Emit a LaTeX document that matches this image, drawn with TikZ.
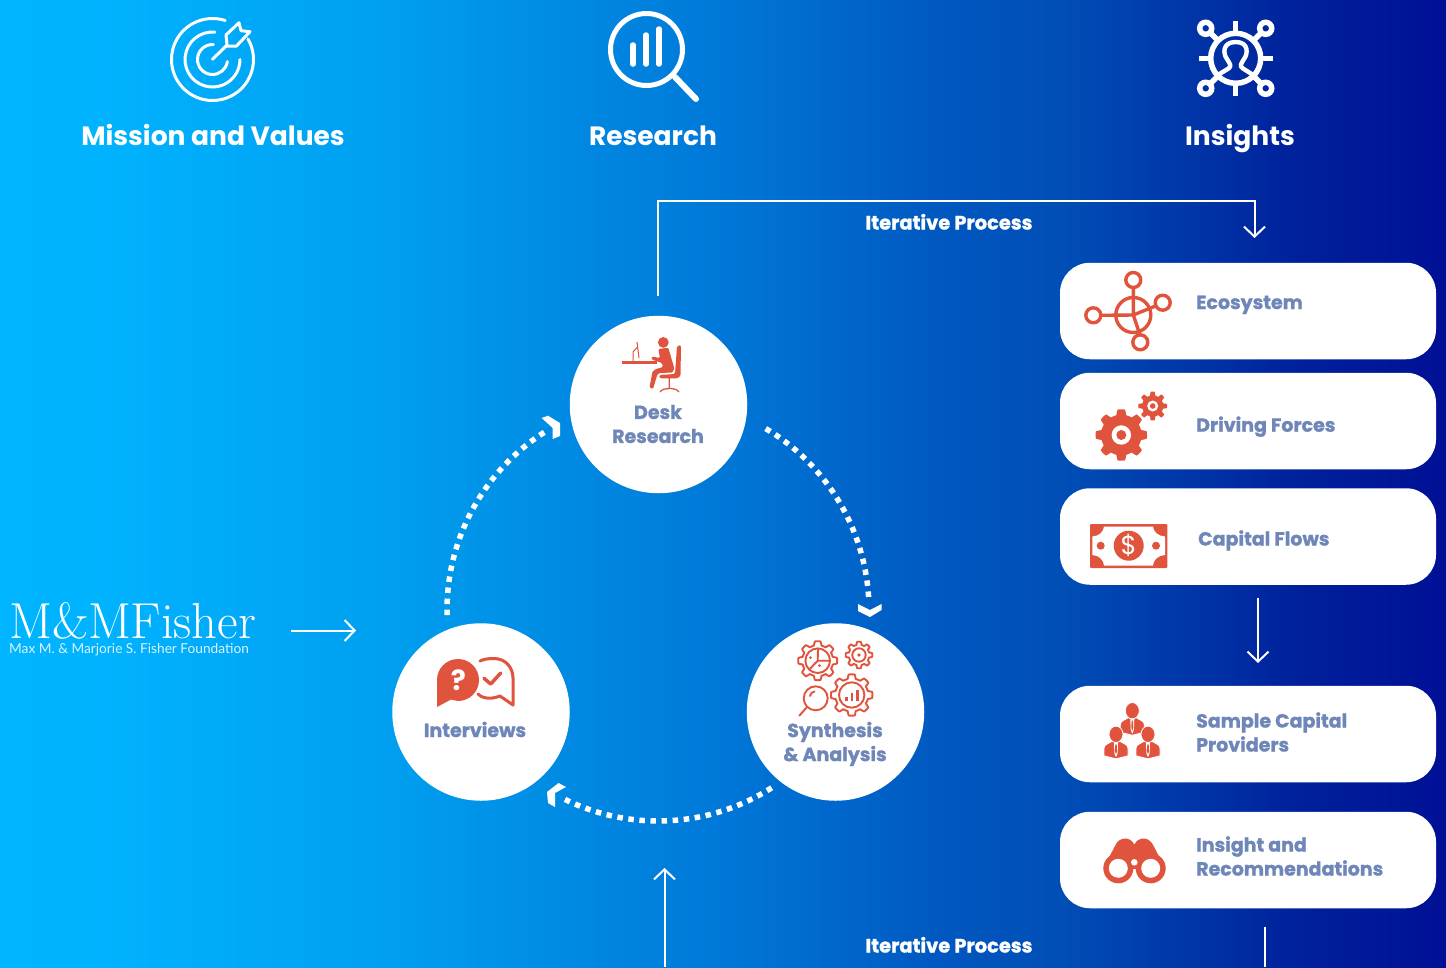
\documentclass[tikz,border=0pt]{standalone}
\usepackage{fontspec}
\usetikzlibrary{arrows.meta}
\newfontfamily\pop{Poppins}
\newfontfamily\popx{Poppins}[BoldFeatures={FakeBold=1.2}]
\newfontfamily\lato{Lato}
\definecolor{ired}{HTML}{E0533D}
\definecolor{ltext}{HTML}{6F86B8}
\pgfdeclarehorizontalshading{bggrad}{100bp}{
 rgb(0bp)=(0,.706,1);
 rgb(25bp)=(0,.706,1);
 rgb(28.5bp)=(0,.70,1);
 rgb(38.1bp)=(0,.627,.941);
 rgb(49.9bp)=(0,.47,.847);
 rgb(57.5bp)=(0,.345,.753);
 rgb(61.7bp)=(0,.306,.714);
 rgb(70bp)=(0,.125,.608);
 rgb(75bp)=(0,.063,.588);
 rgb(100bp)=(0,.063,.588)}
\newcommand\gearplot[5]{plot[domain=0:360,samples=#5*16+1] ({#1+(#3+#4*max(-1,min(1,2.5*cos(#5*\x))))*cos(\x)},{#2+(#3+#4*max(-1,min(1,2.5*cos(#5*\x))))*sin(\x)}) -- cycle}
\newcommand\personicon[2]{%
 \fill[ired,draw=white,line width=.8pt] (#1-12,#2+21.5) -- (#1-12,#2+14) .. controls (#1-12,#2+10.5) and (#1-8,#2+9.5) .. (#1-4,#2+7) -- (#1+4,#2+7) .. controls (#1+8,#2+9.5) and (#1+12,#2+10.5) .. (#1+12,#2+14) -- (#1+12,#2+21.5) -- (#1,#2+24.5) -- cycle;
 \fill[ired,draw=white,line width=.8pt] (#1,#2) ellipse[x radius=7,y radius=8.2];
 \fill[white] (#1-2,#2+8) -- (#1+2,#2+8) -- (#1+1.6,#2+19) -- (#1,#2+23) -- (#1-1.6,#2+19) -- cycle;
 \fill[ired] (#1-.7,#2+10) -- (#1+.7,#2+10) -- (#1+1,#2+17) -- (#1,#2+20) -- (#1-1,#2+17) -- cycle;
}
\tikzset{
 x=1pt,y=-1pt,
 bigcircle/.style={circle,fill=white,minimum size=177.5pt,inner sep=0pt,outer sep=0pt},
 card/.style={rectangle,fill=white,rounded corners=30pt,minimum width=376pt,minimum height=96.5pt,inner sep=0pt,outer sep=0pt},
 heading/.style={text=white,font=\pop\bfseries\fontsize{26.5}{30}\selectfont,inner sep=0pt,anchor=base},
 looplabel/.style={text=ltext,font=\popx\bfseries\fontsize{19}{24}\selectfont,inner sep=0pt,align=center},
 cardlabel/.style={text=ltext,font=\popx\bfseries\fontsize{19}{24}\selectfont,inner sep=0pt,align=left,anchor=west},
 cardbase/.style={cardlabel,anchor=base west},
 iterlabel/.style={text=white,font=\popx\bfseries\fontsize{19.4}{24}\selectfont,inner sep=0pt,anchor=base},
 flowline/.style={draw=white,line width=2pt},
 openarrow/.style={flowline,-{Straight Barb[length=10pt,width=21pt,line width=2pt]}},
 dotarc/.style={draw=white,line width=5.5pt,dash pattern=on 5.5pt off 5.6pt},
 wline/.style={draw=white,line cap=round,line join=round},
 rline/.style={draw=ired,line cap=round,line join=round},
}
\begin{document}
\begin{tikzpicture}
\useasboundingbox (0,0) rectangle (1446,967);
\shade[shading=bggrad] (0,0) rectangle (1446,967);

% circles
\node[bigcircle] (desk) at (658.5,404.5) {};
\node[bigcircle] (inter) at (481,712) {};
\node[bigcircle] (synth) at (835.5,712) {};
\node[looplabel] (desklabel) at (658,424) {Desk\\Research};
\node[looplabel,anchor=base] (interlabel) at (475,737) {Interviews};
\node[looplabel] (synthlabel) at (835,744) {Synthesis\\\& Analysis};

% cards
\node[card] (c1) at (1248,311) {};
\node[card] (c2) at (1248,421) {};
\node[card] (c3) at (1248,536.5) {};
\node[card] (c4) at (1248,734) {};
\node[card] (c5) at (1248,860) {};
\node[cardbase] (l1) at (1196,309) {Ecosystem};
\node[cardbase] (l2) at (1196,431.7) {Driving Forces};
\node[cardbase] (l3) at (1198,545.5) {Capital Flows};
\node[cardlabel] (l4) at (1196,732) {Sample Capital\\Providers};
\node[cardlabel] (l5) at (1196,856) {Insight and\\Recommendations};

% headings
\node[heading] (h1) at (213,145) {Mission and Values};
\node[heading] (h2) at (653,145) {Research};
\node[heading] (h3) at (1240,145) {Insights};
\node[iterlabel] (it1) at (949,229.5) {Iterative Process};
\node[iterlabel] (it2) at (949,952.5) {Iterative Process};

% logo
\node[text=white,inner sep=0pt,anchor=base west,font=\rmfamily\fontsize{50.6}{50}\selectfont\addfontfeatures{FakeBold=0.25}] (logo) at (9,638) {M\&M\hspace{-1pt}Fisher};
\node[text=white,inner sep=0pt,anchor=base west,font=\lato\fontsize{13.7}{16}\selectfont,opacity=.85] (logosub) at (9,653.5) {Max M. \& Marjorie S. Fisher Foundation};

% connectors
\coordinate (a1) at (658,296);
\coordinate (a2) at (1254.5,238);
\coordinate (a3) at (658,201);
\coordinate (a4) at (1254.5,201);
\draw[openarrow] (a1) -- (a3) -- (a4) -- (a2);
\coordinate (b1) at (1258,598);
\coordinate (b2) at (1258,663);
\draw[openarrow] (b1) -- (b2);
\coordinate (d1) at (291,630.5);
\coordinate (d2) at (356,630.5);
\draw[openarrow] (d1) -- (d2);
\coordinate (e1) at (664.5,967);
\coordinate (e2) at (664.5,868);
\draw[openarrow] (e1) -- (e2);
\coordinate (f1) at (1265,927);
\coordinate (f2) at (1265,967);
\draw[flowline] (f1) -- (f2);

% dotted loop
\coordinate (loopc) at (658,610);
\draw[dotarc] (loopc) ++(178.6:211) arc[start angle=178.6,end angle=238.3,radius=211];
\draw[dotarc] (loopc) ++(-59.3:211) arc[start angle=-59.3,end angle=-2.2,radius=211];
\draw[dotarc] (loopc) ++(57.4:211) arc[start angle=57.4,end angle=117,radius=211];
\fill[white] (541.7,418) -- (548,415.7) -- (560,423) -- (560,436) -- (552.7,439) -- (552.7,428) -- cycle;
\fill[white] (858,604) -- (870,610) -- (881.5,604) -- (881.5,610) -- (870,617) -- (858,611) -- cycle;
\fill[white] (547,792) -- (558.6,783) -- (566,787) -- (555,793) -- (555,807) -- (548,803) -- cycle;

% target icon
\coordinate (tc) at (212.5,59.5);
\begin{scope}[wline,line width=3pt]
\draw (tc) ++(-72:41) arc[start angle=-72,delta angle=-318,radius=41];
\draw (tc) ++(-85:27.5) arc[start angle=-85,delta angle=-275,radius=27.5];
\draw (tc) ++(-87:15) arc[start angle=-87,delta angle=-265,radius=15];
\draw (212.5,59.3) -- (227,45) -- (226,35) -- (239,22.7) -- (241,30.7) -- (250,31.7) -- (236.5,46) -- (227,46);
\end{scope}

% magnifier icon
\draw[wline,line width=5pt] (646.5,49.5) circle (36);
\draw[wline,line width=6pt] (675,77) -- (696,99);
\draw[wline,line width=5.5pt] (633,45) -- (633,64) (646,35) -- (646,64) (659,29) -- (659,64);

% insights icon
\begin{scope}[draw=white,line width=5.5pt]
\draw (1235.7,58.3) circle (25);
\foreach \a/\b in {1205.7/28.3,1265.7/28.3,1205.7/88.3,1265.7/88.3}{\draw (\a,\b) circle (6);}
\draw (1235.7,21) -- (1235.7,31) (1235.7,86) -- (1235.7,95.5) (1198.5,58.3) -- (1208,58.3) (1263,58.3) -- (1272.5,58.3);
\draw (1211,33.5) -- (1218,40.5) (1260.5,33.5) -- (1253.5,40.5) (1211,83) -- (1217,77) (1260.5,83) -- (1254.5,77);
\draw[line join=round,line width=4.4pt] (1217,75.5) -- (1228.5,68.5) .. controls (1232,66) and (1230,64) .. (1227,59) .. controls (1223,54) and (1222,42) .. (1235.7,42) .. controls (1249,42) and (1248,54) .. (1244,59) .. controls (1241,64) and (1239,66) .. (1243,68.5) -- (1254,75.5);
\end{scope}

% ecosystem icon
\begin{scope}[rline,line width=3.4pt]
\draw (1133.3,315) circle (17.5);
\draw (1133.3,280) circle (7.5) (1162.7,302.7) circle (7.5) (1093.3,315.3) circle (7.5) (1140.3,342.3) circle (7.5);
\draw (1133.3,287.5) -- (1133.3,315) -- (1140,335);
\draw (1100.8,315.3) -- (1133.3,315) -- (1155.5,306);
\end{scope}

% driving forces
\fill[ired] \gearplot{1121.3}{435}{23}{2.7}{8};
\fill[white] (1121.3,435) circle (9.7);
\fill[ired] (1121.3,435) circle (5);
\fill[ired] \gearplot{1152.7}{406}{12.5}{1.9}{8};
\fill[white] (1152.7,406) circle (5.5);
\fill[ired] (1152.7,406) circle (2.8);

% money
\fill[ired,rounded corners=1pt] (1090,524) rectangle (1167.3,568);
\fill[white] (1104,526.5) -- (1153,526.5) .. controls (1153.5,532) and (1158,536) .. (1165,536.5) -- (1165,555) .. controls (1158,555.5) and (1153.5,559.5) .. (1153,565.5) -- (1104,565.5) .. controls (1103.5,559.5) and (1099,555.5) .. (1092.3,555) -- (1092.3,536.5) .. controls (1099,536) and (1103.5,532) .. (1104,526.5) -- cycle;
\fill[ired] (1128.7,545.7) circle (15);
\fill[ired] (1100.7,545.7) circle (4) (1156,545.7) circle (4);
\node[text=white,font=\pop\fontsize{26}{26}\selectfont,inner sep=0pt] (dollar) at (1128.7,545.7) {\$};

% people
\personicon{1132.3}{710.7}
\personicon{1116}{734.3}
\personicon{1148}{734.3}

% binoculars
\fill[ired] (1103.5,868) -- (1115,846) .. controls (1119,836.5) and (1130,836) .. (1134.3,844.5) .. controls (1138.6,836) and (1149.6,836.5) .. (1153.6,846) -- (1165,868) -- (1134.3,869) -- cycle;
\fill[ired] (1118.3,868.3) circle (15) (1150.7,868.3) circle (15);
\fill[white] (1118.3,868.3) circle (9.5) (1150.7,868.3) circle (9.5) (1134.3,862.3) circle (3.3);

% desk icon
\fill[ired] (663.3,342.4) circle (5.4);
\fill[ired] (621.7,360.7) rectangle (656.7,364);
\draw[ired,line width=1pt] (633,361) -- (633,352) -- (637.5,347) (637,342) -- (639,358);
\fill[ired,rounded corners=1.2pt] (658.3,349) -- (668.3,347.7) -- (674.3,368.3) -- (672.5,372.5) -- (660,373) -- (657.5,374) -- (653,389) -- (649.5,387.5) -- (652.5,371.5) -- (656,369) -- (663,367) -- (662,363) -- (651.7,359.5) -- (651.7,356.5) -- (660,358) -- cycle;
\fill[ired,rounded corners=1.5pt] (677,346) -- (681,345) -- (680.5,376) -- (677.5,378.3) -- (659.3,378.3) -- (659.3,375) -- (675,374) -- cycle;
\draw[ired,line width=1.3pt] (669.3,378) -- (669.3,388) (660,392) .. controls (662,389) and (666,388.5) .. (669.3,388.5) .. controls (673,388.5) and (677,389) .. (679,392);

% interview icon
\fill[ired] (437,707) -- (437,680) arc[start angle=180,end angle=360,radius=21] arc[start angle=0,end angle=90,radius=21] -- (451,699.5) -- cycle;
\node[text=white,font=\pop\bfseries\fontsize{28}{28}\selectfont,inner sep=0pt] (qmark) at (458.5,680) {?};
\draw[rline,line width=3pt] (480,661) .. controls (484,659) and (489,658.5) .. (494,658.5) .. controls (505,658.5) and (513,667) .. (513,678) -- (513,705) -- (500,696) .. controls (495,698) and (489,699) .. (484,697.5) .. controls (482,697) and (480,696) .. (478,694);
\draw[rline,line width=3.5pt] (484,678.3) -- (490.7,684) -- (500.7,673);

% synthesis icon
\begin{scope}[rline,line width=1.9pt]
\draw \gearplot{817.7}{660.7}{17.5}{2}{8};
\draw (817.7,660.7) circle (12.3);
\draw (817.7,660.7) -- (818,649) (817.7,660.7) -- (829.5,660.7) (817.7,660.7) -- (810,668.7);
\fill[ired] (810.5,657.5) circle (1.5) (819.5,665.5) circle (1.5);
\draw \gearplot{859}{655}{11.8}{1.5}{8};
\draw (859,655) circle (6.7);
\fill[ired] (859,655) circle (1.8);
\draw (815.7,698.3) circle (12);
\draw (807.2,706.8) -- (799.3,715.7);
\draw (810,696) .. controls (810.5,693.5) and (812,692) .. (814.5,691.5);
\draw \gearplot{851.7}{695}{18.6}{2.1}{8};
\draw (851.7,695) circle (12.7);
\draw[line width=2.6pt,line cap=butt] (846.5,701) -- (846.5,696.5) (852,701) -- (852,693) (857.5,701) -- (857.5,690);
\end{scope}
\end{tikzpicture}
\end{document}
